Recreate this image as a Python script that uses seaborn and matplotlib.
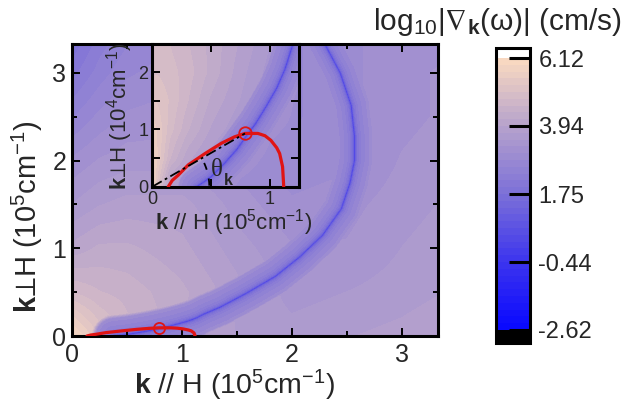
import numpy as np
import matplotlib
matplotlib.use("Agg")
import matplotlib.pyplot as plt
import seaborn as sns
from matplotlib.colors import LinearSegmentedColormap
from matplotlib.ticker import FixedLocator

# ---------------- data ----------------
cbar_ticks = [-2.62, -0.44, 1.75, 3.94, 6.12]
cbar_labels = ["-2.62", "-0.44", "1.75", "3.94", "6.12"]
cbar_colors = ["#0808ff", "#3c34ee", "#7c70d8", "#b6a2cc", "#fbdbc0"]

# main map: log10 |grad_k omega| on a coarse grid (k in 1e5 cm^-1)
main_gx = [0, 0.25, 0.5, 1.0, 1.5, 2.0, 2.5, 3.0, 3.33]
main_gy = [0, 0.25, 0.5, 1.0, 1.5, 2.0, 2.5, 3.0, 3.33]
main_field = [
    [6.0, 5.2, 4.8, 4.1, 3.7, 3.6, 3.7, 3.8, 3.8],
    [5.4, 4.9, 4.6, 4.2, 3.7, 3.5, 3.6, 3.7, 3.8],
    [4.8, 4.6, 4.5, 4.2, 3.8, 3.4, 3.5, 3.6, 3.7],
    [4.0, 4.2, 4.2, 4.0, 3.6, 3.3, 3.3, 3.5, 3.6],
    [3.5, 3.7, 3.8, 3.8, 3.4, 3.1, 3.2, 3.4, 3.5],
    [3.1, 3.3, 3.4, 3.4, 3.2, 2.9, 3.0, 3.3, 3.4],
    [2.6, 2.9, 3.1, 3.2, 3.0, 2.8, 3.0, 3.2, 3.3],
    [2.1, 2.5, 2.8, 3.0, 2.9, 2.8, 3.0, 3.2, 3.3],
    [1.8, 2.3, 2.6, 2.9, 2.9, 2.8, 3.0, 3.2, 3.2],
]

# inset map (x in 1e5 cm^-1, y in 1e4 cm^-1)
inset_gx = [0, 0.05, 0.15, 0.3, 0.5, 0.75, 1.0, 1.25]
inset_gy = [0, 0.5, 1.0, 1.5, 2.0, 2.5]
inset_field = [
    [5.8, 5.0, 3.8, 3.5, 3.3, 3.0, 2.9, 3.0],
    [5.8, 5.4, 4.6, 4.0, 3.6, 3.2, 3.0, 3.0],
    [5.6, 5.4, 4.9, 4.4, 3.9, 3.5, 3.1, 3.0],
    [5.3, 5.2, 5.0, 4.6, 4.1, 3.7, 3.3, 3.0],
    [5.0, 5.0, 4.9, 4.7, 4.3, 3.8, 3.4, 3.1],
    [4.8, 4.9, 4.8, 4.6, 4.3, 3.9, 3.5, 3.2],
]

# zero-velocity ring (k in 1e5 cm^-1)
ring_x = [0.38, 0.5, 0.62, 0.72, 0.8, 0.88, 0.97, 1.06, 1.13, 1.2, 1.35,
          1.59, 1.85, 2.07, 2.28, 2.45, 2.53, 2.57, 2.57, 2.54, 2.44, 2.3]
ring_y = [0.0, 0.017, 0.042, 0.065, 0.088, 0.11, 0.14, 0.172, 0.205, 0.25, 0.33,
          0.49, 0.68, 0.9, 1.15, 1.45, 1.75, 2.0, 2.28, 2.63, 3.0, 3.33]
# value across the ring versus distance from it (pixels)
valley_px = [0, 1.0, 2.0, 4, 7, 12, 18, 30]
valley_val = [-0.3, 0.8, 1.6, 2.1, 2.4, 2.7, 2.95, 9.0]

# red curve (k in 1e5 cm^-1)
curve_x = [0.136, 0.17, 0.22, 0.306, 0.45, 0.59, 0.70, 0.79, 0.90, 0.96,
           1.01, 1.06, 1.085, 1.11, 1.12]
curve_y = [0.0, 0.011, 0.020, 0.038, 0.058, 0.076, 0.087, 0.093, 0.093, 0.089,
           0.081, 0.068, 0.058, 0.035, 0.0]
mark_x, mark_y = 0.79, 0.093

RED = "#e01414"

# ---------------- style ----------------
sns.set_theme(style="ticks")
plt.rcParams["font.family"] = ["Liberation Sans", "DejaVu Sans"]
plt.rcParams["mathtext.fontset"] = "custom"
plt.rcParams["mathtext.rm"] = "Liberation Sans"
plt.rcParams["mathtext.bf"] = "Liberation Sans:bold"
plt.rcParams["mathtext.it"] = "Liberation Sans:italic"
plt.rcParams["mathtext.fallback"] = "stixsans"
plt.rcParams["axes.axisbelow"] = False

fig = plt.figure(figsize=(6.36, 4.07), dpi=100)
W, H = 636, 407
def pos(l, r, t, b):
    return [l / W, (H - b) / H, (r - l) / W, (b - t) / H]

ax = fig.add_axes(pos(72, 438, 44, 336))
ax_in = fig.add_axes(pos(152.3, 299, 43.5, 186.7))
cax = fig.add_axes(pos(496, 530, 48, 343))
for a in (ax, ax_in, cax):
    a.set_axisbelow(False)

vmin, vmax = cbar_ticks[0], cbar_ticks[-1]
anch = [(v - vmin) / (vmax - vmin) for v in cbar_ticks]
cmap = LinearSegmentedColormap.from_list("gv", list(zip(anch, cbar_colors)))
cmap.set_under("black")
cmap.set_over("white")
levels = np.linspace(vmin, vmax, 41)


def grid_interp(gx, gy, gv, X, Y):
    gv = np.asarray(gv, float)
    rows = np.array([np.interp(X[0], gx, r) for r in gv])
    return np.array([np.interp(Y[:, 0], gy, rows[:, j])
                     for j in range(rows.shape[1])]).T


def ring_dist(X, Y, rx, ry, sx, sy):
    px, py = X * sx, Y * sy
    qx, qy = np.asarray(rx) * sx, np.asarray(ry) * sy
    d = np.full(X.shape, np.inf)
    for i in range(len(qx) - 1):
        vx, vy = qx[i + 1] - qx[i], qy[i + 1] - qy[i]
        t = np.clip(((px - qx[i]) * vx + (py - qy[i]) * vy) / (vx * vx + vy * vy), 0, 1)
        d = np.minimum(d, np.hypot(px - (qx[i] + t * vx), py - (qy[i] + t * vy)))
    return d


def draw_field(a, gx, gy, gv, xlim, ylim, ryscale, nx, ny):
    a.set_xlim(*xlim)
    a.set_ylim(*ylim)
    bb = a.get_window_extent()
    sx = bb.width / (xlim[1] - xlim[0])
    sy = bb.height / (ylim[1] - ylim[0])
    X, Y = np.meshgrid(np.linspace(*xlim, nx), np.linspace(*ylim, ny))
    bg = grid_interp(gx, gy, gv, X, Y)
    d = ring_dist(X, Y, ring_x, np.asarray(ring_y) * ryscale, sx, sy)
    F = np.minimum(bg, np.interp(d, valley_px, valley_val))
    cs = a.contourf(X, Y, F, levels=levels, cmap=cmap, extend="both", zorder=0)
    return cs, sx, sy


# ---------------- main axes ----------------
cs, _, _ = draw_field(ax, main_gx, main_gy, main_field, (0, 3.33), (0, 3.33), 1.0, 480, 400)
sns.lineplot(x=curve_x, y=curve_y, sort=False, estimator=None, color=RED,
             lw=2.3, ax=ax, legend=False, zorder=3)
ax.plot(mark_x, mark_y, "o", mfc="none", mec=RED, ms=8, mew=1.3, zorder=4)

ax.xaxis.set_major_locator(FixedLocator([0, 1, 2, 3]))
ax.yaxis.set_major_locator(FixedLocator([0, 1, 2, 3]))
ax.xaxis.set_minor_locator(FixedLocator([0.5, 1.5, 2.5]))
ax.yaxis.set_minor_locator(FixedLocator([0.5, 1.5, 2.5]))
ax.set_xticklabels(["0", "1", "2", "3"])
ax.set_yticklabels(["0", "1", "2", "3"])
ax.tick_params(which="both", direction="in", top=True, right=True, color="black")
ax.tick_params(which="major", length=5.8, width=1.4, labelsize=18, pad=5)
ax.tick_params(which="minor", length=3.6, width=1.4)
ax.tick_params(axis="y", which="major", pad=4)
for s in ax.spines.values():
    s.set_linewidth(2.2)
    s.set_color("black")
ax.set_xlabel(r"$\mathbf{k}$ // H (10$^{5}$cm$^{-1}$)", fontsize=20.5)
ax.set_ylabel(r"$\mathbf{k}$$⊥$H (10$^{5}$cm$^{-1}$)", fontsize=21)
ax.xaxis.set_label_coords(0.443, -0.11)
ax.yaxis.set_label_coords(-0.075, 0.41)

# ---------------- inset ----------------
_, sxi, syi = draw_field(ax_in, inset_gx, inset_gy, inset_field, (0, 1.25), (0, 2.5), 10.0, 260, 260)
sns.lineplot(x=curve_x, y=np.asarray(curve_y) * 10, sort=False, estimator=None,
             color=RED, lw=2.3, ax=ax_in, legend=False, zorder=3)
ax_in.plot(mark_x, mark_y * 10, "o", mfc="none", mec=RED, ms=9, mew=1.3, zorder=4)
ax_in.plot([0, mark_x], [0, mark_y * 10], color="black", lw=1.3,
           ls=(0, (6, 2, 1.5, 2)), zorder=3)
phi = np.radians(np.linspace(1, 27, 40))
ax_in.plot(57 * np.cos(phi) / sxi, 57 * np.sin(phi) / syi, color="black", lw=1.3,
           ls=(0, (4, 5)), zorder=3)
ax_in.text(0.55, 0.30, "θ", family="Liberation Serif", fontsize=18,
           ha="center", va="center", zorder=5)
ax_in.text(0.645, 0.10, "k", fontweight="bold", fontsize=11.5,
           ha="center", va="center", zorder=5)

ax_in.xaxis.set_major_locator(FixedLocator([0, 1]))
ax_in.xaxis.set_minor_locator(FixedLocator([0.5]))
ax_in.yaxis.set_major_locator(FixedLocator([0, 1, 2]))
ax_in.yaxis.set_minor_locator(FixedLocator([0.5, 1.5]))
ax_in.set_xticklabels(["0", "1"])
ax_in.set_yticklabels(["0", "1", "2"])
ax_in.tick_params(which="both", direction="in", top=True, right=True,
                  length=5.5, width=1.4, color="black")
ax_in.tick_params(which="major", labelsize=13, pad=3)
for s in ax_in.spines.values():
    s.set_linewidth(2.2)
    s.set_color("black")
ax_in.set_xlabel(r"$\mathbf{k}$ // H (10$^{5}$cm$^{-1}$)", fontsize=16)
ax_in.set_ylabel(r"$\mathbf{k}$$⊥$H (10$^{4}$cm$^{-1}$)", fontsize=16)
ax_in.xaxis.set_label_coords(0.552, -0.14)
ax_in.yaxis.set_label_coords(-0.12, 0.49)

# ---------------- colorbar ----------------
cb = fig.colorbar(cs, cax=cax, extend="both", extendrect=True,
                  extendfrac=[0.048, 0.037], ticks=cbar_ticks)
cb.set_ticklabels(cbar_labels)
cb.outline.set_linewidth(2.2)
cb.outline.set_edgecolor("black")
cax.yaxis.set_ticks_position("right")
cax.tick_params(which="major", direction="in", length=15, width=2.2,
                labelsize=17, pad=6, color="black")
cax.minorticks_off()
fig.text(497 / W, 1 - 22 / H, r"log$_{10}$|$\nabla_{\mathbf{k}}$(ω)| (cm/s)",
         fontsize=21.5, ha="center", va="center")

fig.savefig("out.png", dpi=100)
